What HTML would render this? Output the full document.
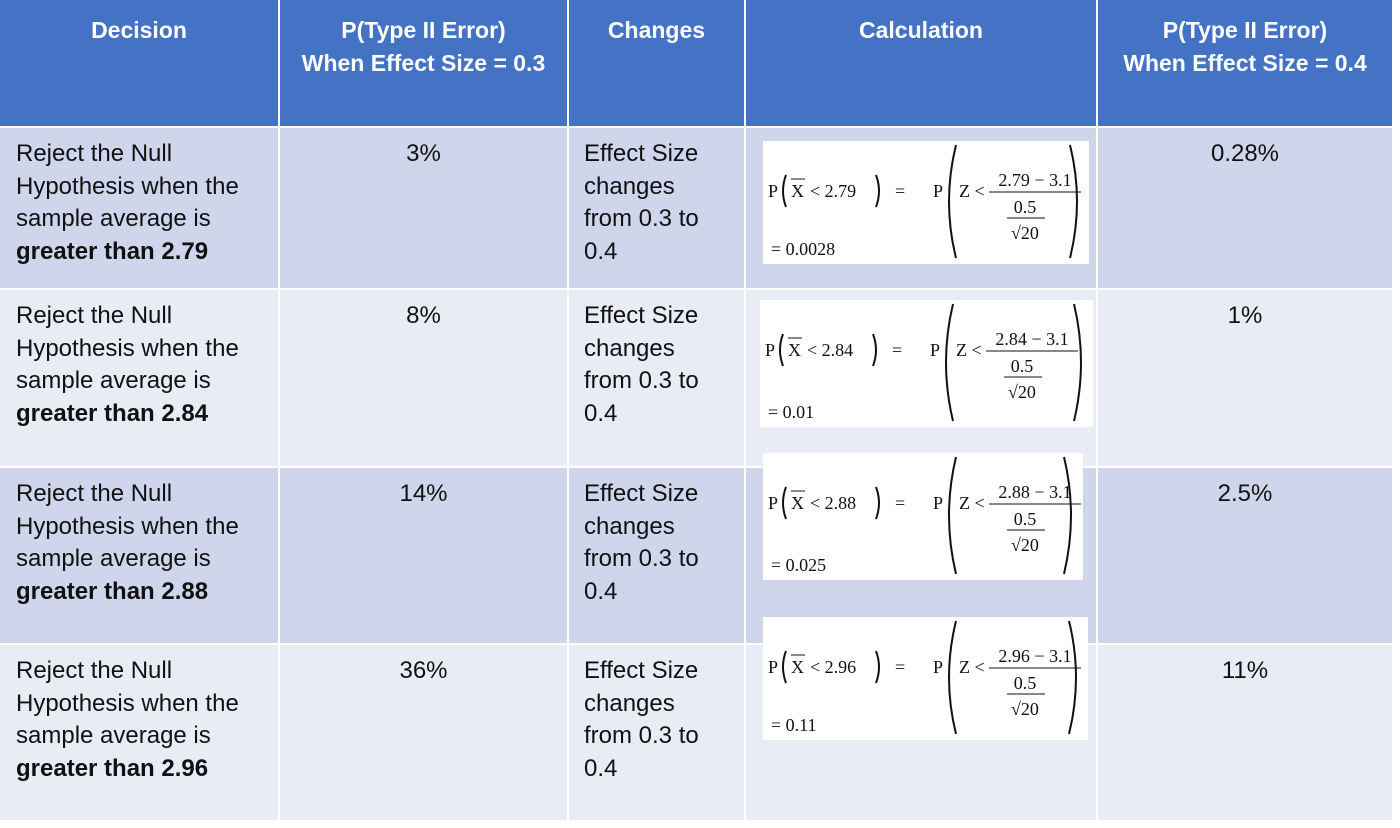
<!DOCTYPE html>
<html><head><meta charset="utf-8">
<style>
body{margin:0;width:1400px;height:828px;background:#fff;position:relative;overflow:hidden;font-family:"Liberation Sans",sans-serif}
.c{position:absolute;box-sizing:border-box;font-size:24px;line-height:32.5px;color:#111;white-space:nowrap}
.h{background:#4472C4;color:#fff;font-weight:bold;text-align:center;padding-top:14px;font-size:23px}
.o{background:#CFD5EA}.e{background:#E9EBF5}
.ctr{text-align:center}
.fx{position:absolute;background:#fff}
.fx text{font-family:"Liberation Serif",serif;font-size:18px;fill:#111}
</style></head><body>
<div id="t"></div>
<script>
const cols=[0,279,568,745,1097,1393];
const rowsY=[0,127,289,467,644,821];
const headers=["Decision","P(Type II Error)<br>When Effect Size = 0.3","Changes","Calculation","P(Type II Error)<br>When Effect Size = 0.4"];
const thresholds=["2.79","2.84","2.88","2.96"];
const p03=["3%","8%","14%","36%"];
const p04=["0.28%","1%","2.5%","11%"];
const results=["0.0028","0.01","0.025","0.11"];
const boxes=[[763,141,326,123],[760,300,333,127],[763,453,320,127],[763,617,325,123]];
const root=document.getElementById('t');
function cell(ci,ri,cls,html){
  const d=document.createElement('div');
  d.className='c '+cls;
  d.style.left=(cols[ci]+(ci?1:0))+'px';d.style.top=(rowsY[ri]+(ri?1:0))+'px';
  d.style.width=(cols[ci+1]-cols[ci]-(ci?1:0)-1)+'px';d.style.height=(rowsY[ri+1]-rowsY[ri]-(ri?1:0)-1)+'px';
  d.innerHTML=html;root.appendChild(d);return d;
}
function lp(x,y1,y2,w){const m=(y1+y2)/2;return `<path d="M${x+w},${y1} Q${x-w},${m} ${x+w},${y2}" fill="none" stroke="#111" stroke-width="2"/>`;}
function rp(x,y1,y2,w){const m=(y1+y2)/2;return `<path d="M${x-w},${y1} Q${x+w},${m} ${x-w},${y2}" fill="none" stroke="#111" stroke-width="2"/>`;}
headers.forEach((h,i)=>{const d=cell(i,0,'h',h);

});
thresholds.forEach((t,r)=>{
  const cls=r%2?'e':'o';
  let d=cell(0,r+1,cls,'Reject the Null<br>Hypothesis when the<br>sample average is<br><b>greater than '+t+'</b>');d.style.padding='10px 0 0 16px';
  
  
  d=cell(1,r+1,cls+' ctr',p03[r]);d.style.paddingTop='10px';
  
  
  d=cell(2,r+1,cls,'Effect Size<br>changes<br>from 0.3 to<br>0.4');d.style.padding='10px 0 0 15px';
  
  
  d=cell(3,r+1,cls,'');
  
  
  d=cell(4,r+1,cls+' ctr',p04[r]);d.style.paddingTop='10px';
  
  
  const b=boxes[r];
  const W=b[2],H=b[3];
  const f=document.createElement('div');f.className='fx';
  f.style.left=b[0]+'px';f.style.top=b[1]+'px';f.style.width=W+'px';f.style.height=H+'px';
  
  
  f.innerHTML=`<svg width="${W}" height="${H}">
<text x="5" y="56">P</text>
${lp(20,34,66,3)}
<text x="28" y="56">X</text><line x1="28" y1="38" x2="42" y2="38" stroke="#111" stroke-width="1"/>
<text x="47" y="56">&lt; 2.79</text>`.replace('2.79',t)+`
${rp(116,34,66,3)}
<text x="132" y="56">=</text>
<text x="170" y="56">P</text>
${lp(186,4,H-6,7)}
<text x="196" y="56">Z &lt;</text>
<text x="272" y="45" text-anchor="middle">${t} − 3.1</text>
<line x1="226" y1="51" x2="318" y2="51" stroke="#111"/>
<text x="262" y="72" text-anchor="middle">0.5</text>
<line x1="244" y1="77" x2="282" y2="77" stroke="#111"/>
<text x="262" y="98" text-anchor="middle">√20</text>
${rp(W-12,4,H-6,7)}
<text x="8" y="${H-9}">=  ${results[r]}</text></svg>`;
  root.appendChild(f);
});
</script>
</body></html>
